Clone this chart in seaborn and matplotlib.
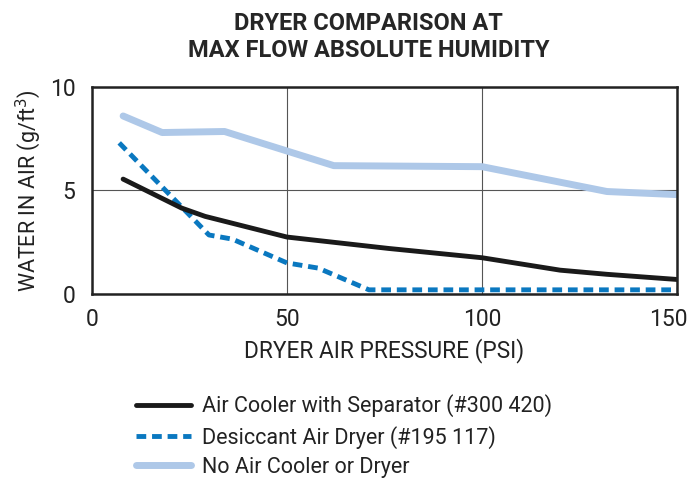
import matplotlib
matplotlib.use("Agg")
import pandas as pd
import matplotlib.pyplot as plt
import matplotlib.transforms as mtransforms
import seaborn as sns

# Data
x_cooler = [8, 23, 29, 50, 76, 100, 120, 132, 150]
y_cooler = [5.55, 4.15, 3.75, 2.75, 2.2, 1.75, 1.15, 0.95, 0.7]

x_desiccant = [7, 30, 36, 50, 58, 71, 150]
y_desiccant = [7.3, 2.85, 2.65, 1.5, 1.25, 0.2, 0.2]

x_none = [8, 18, 34, 62, 100, 132, 150]
y_none = [8.6, 7.8, 7.85, 6.2, 6.15, 4.95, 4.8]

labels = ["Air Cooler with Separator (#300 420)",
          "Desiccant Air Dryer (#195 117)",
          "No Air Cooler or Dryer"]

sns.set_style("white")
plt.rcParams['font.family'] = ['Roboto', 'DejaVu Sans']

fig = plt.figure(figsize=(6.91, 4.78), dpi=100)
ax = fig.add_axes([0.133, 0.385, 0.847, 0.433])

sns.lineplot(x=x_none, y=y_none, ax=ax, color='#aec8e8', linewidth=5, label=labels[2])
sns.lineplot(x=x_desiccant, y=y_desiccant, ax=ax, color='#0a78c0', linewidth=3.5,
             linestyle=(0, (2, 1.2)), label=labels[1])
sns.lineplot(x=x_cooler, y=y_cooler, ax=ax, color='#1a1a1a', linewidth=3.5, label=labels[0])

ax.set_xlim(0, 150)
ax.set_ylim(0, 10)
ax.set_xticks([0, 50, 100, 150])
ax.set_yticks([0, 5, 10])
ax.grid(True, color='#555555', linewidth=0.8)
ax.tick_params(axis='both', length=0, labelsize=16.5, colors='#222222')
ax.tick_params(axis='x', pad=10)
ax.tick_params(axis='y', pad=12)
for s in ax.spines.values():
    s.set_color('#222222')
    s.set_linewidth(1.8)

# keep the last x tick label inside the figure
last = ax.get_xticklabels()[-1]
last.set_horizontalalignment('right')
last.set_transform(last.get_transform() + mtransforms.ScaledTranslation(10 / 100, 0, fig.dpi_scale_trans))

ax.set_xlabel("DRYER AIR PRESSURE (PSI)", fontsize=16.3, color='#222222', labelpad=5)
ax.set_ylabel("WATER IN AIR (g/ft$^3$)", fontsize=15.5, color='#222222', labelpad=5)

fig.text(0.533, 0.975, "DRYER COMPARISON AT\nMAX FLOW ABSOLUTE HUMIDITY",
         ha='center', va='top', fontsize=17, fontweight='bold', linespacing=1.2)

# legend in reference order
handles, labs = ax.get_legend_handles_labels()
order = [labs.index(l) for l in labels]
ax.get_legend().remove()
fig.legend([handles[i] for i in order], [labs[i] for i in order],
           loc='upper left', bbox_to_anchor=(0.184, 0.193), frameon=False,
           fontsize=15.5, handlelength=2.55, handletextpad=0.55, labelspacing=0.38,
           borderaxespad=0, labelcolor='#222222')

fig.savefig("out.png", dpi=100)
